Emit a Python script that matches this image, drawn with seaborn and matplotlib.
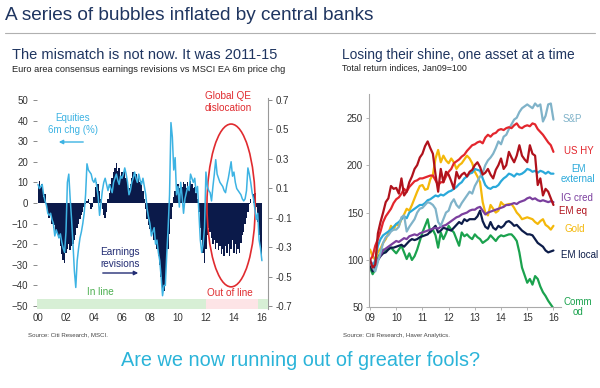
import numpy as np
import pandas as pd
import matplotlib
matplotlib.use("Agg")
import matplotlib.pyplot as plt
import seaborn as sns
from matplotlib.patches import Ellipse
from matplotlib.lines import Line2D

# Left panel: readings every 0.1 year, 2000.0 .. 2016.0
left_years = np.round(np.arange(2000.0, 2016.05, 0.1), 1)

# MSCI EA 6m price change (%), left axis
equity_6m_chg = [
    9, 7, 8, 9, 4, 1, -1, -5, -6, -5,            # 2000
    -8, -10, -16, -13, -15, -17, -15, -19, -22, -24,  # 2001
    -14, 10, 14, 2, -8, -20, -33, -41, -28, -22,  # 2002
    -17, -14, -10, -5, 4, 19, 16, 15, 14, 11,     # 2003
    10, 12, 8, 3, -6, 0, 6, 10, 12, 9,            # 2004
    6, 9, 7, 5, 10, 12, 14, 11, 9, 13,            # 2005
    12, 14, 17, 14, 10, 4, 6, 10, 12, 15,         # 2006
    12, 10, 14, 11, 9, 12, 8, 4, -3, -7,          # 2007
    -10, -16, -14, -12, -20, -18, -24, -28, -36, -45,  # 2008
    -40, -40, -25, -12, 4, 39, 32, 16, 22, 4,     # 2009
    8, -2, 10, 3, -5, 2, 5, 8, 6, 14,             # 2010
    12, 10, 12, 5, 8, -5, -18, -24, -20, -12,     # 2011
    15, 8, 6, 5, 1, 8, 14, 21, 14, 12,            # 2012
    10, 9, 8, 6, 5, 9, 12, 16, 20, 13,            # 2013
    15, 10, 7, 6, 5, 4, 2, 1, 2, 6,               # 2014
    17, 14, 10, 5, 2, -3, -8, -5, -18, -22,       # 2015
    -28,                                          # 2016
]

# Consensus earnings revisions ratio, right axis
earnings_revisions = [
    0.11, 0.15, 0.10, 0.13, 0.04, 0.06, -0.03, -0.06, -0.10, -0.08,
    -0.14, -0.17, -0.15, -0.20, -0.22, -0.24, -0.29, -0.35, -0.39, -0.41,
    -0.34, -0.31, -0.28, -0.32, -0.29, -0.28, -0.25, -0.22, -0.17, -0.14,
    -0.11, -0.08, -0.06, -0.03, -0.01, 0.01, 0.03, -0.01, -0.04, -0.03,
    0.04, 0.11, 0.14, 0.13, 0.08, 0.03, -0.04, -0.08, -0.10, -0.06,
    0.03, 0.07, 0.13, 0.17, 0.21, 0.24, 0.27, 0.22, 0.24, 0.18,
    0.21, 0.20, 0.22, 0.17, 0.14, 0.10, 0.13, 0.17, 0.21, 0.18,
    0.20, 0.15, 0.18, 0.14, 0.15, 0.08, 0.03, -0.04, -0.11, -0.15,
    -0.18, -0.21, -0.20, -0.25, -0.28, -0.31, -0.36, -0.42, -0.50, -0.59,
    -0.60, -0.53, -0.42, -0.31, -0.21, -0.11, -0.03, 0.04, 0.08, 0.11,
    0.13, 0.10, 0.14, 0.11, 0.14, 0.13, 0.10, 0.14, 0.11, 0.15,
    0.13, 0.10, 0.11, 0.07, 0.03, -0.06, -0.17, -0.25, -0.34, -0.41,
    -0.31, -0.22, -0.17, -0.20, -0.24, -0.28, -0.25, -0.31, -0.27, -0.32,
    -0.29, -0.35, -0.31, -0.36, -0.29, -0.34, -0.28, -0.36, -0.31, -0.25,
    -0.34, -0.28, -0.35, -0.31, -0.34, -0.27, -0.22, -0.20, -0.14, -0.10,
    -0.06, -0.01, 0.03, 0.00, 0.06, 0.07, -0.03, -0.13, -0.22, -0.31,
    -0.39,
]

# regime bar along the bottom: (start, end, kind)
regimes = [(1999.9, 2012.0, "in"), (2012.0, 2015.7, "out"), (2015.7, 2016.45, "in")]

left_xticks = list(range(2000, 2017, 2))
left_yticks = list(range(-50, 51, 10))
rev_ticks = [-0.7, -0.5, -0.3, -0.1, 0.1, 0.3, 0.5, 0.7]

# Right panel: total return indices, Jan09=100, every 0.1 year 2009.0 .. 2016.0
right_years = np.round(np.arange(2009.0, 2016.05, 0.1), 1)

sp500 = [
    100, 92, 88, 98, 108, 118, 124, 126, 130, 132,
    132, 135, 145, 147, 130, 135, 139, 143, 150, 154,
    155, 158, 161, 160, 158, 154, 140, 136, 143, 150,
    152, 160, 164, 158, 155, 160, 164, 168, 172, 170,
    178, 183, 188, 192, 200, 205, 208, 212, 218, 225,
    222, 230, 232, 238, 243, 248, 250, 256, 260, 262,
    264, 262, 260, 265, 262, 264, 246, 252, 264, 265,
    248,
]
us_hy = [
    100, 104, 115, 122, 130, 140, 146, 150, 154, 160,
    164, 166, 170, 175, 172, 177, 180, 183, 184, 186,
    186, 187, 188, 189, 189, 184, 179, 182, 182, 188,
    193, 196, 202, 204, 206, 209, 211, 215, 218, 221,
    222, 224, 225, 223, 229, 232, 230, 233, 234, 237,
    238, 237, 239, 240, 239, 242, 244, 240, 239, 241,
    242, 241, 244, 243, 238, 235, 232, 228, 224, 221,
    214,
]
em_external = [
    97, 93, 100, 115, 122, 126, 128, 130, 132, 135,
    138, 140, 143, 146, 144, 150, 152, 154, 156, 158,
    158, 160, 163, 164, 166, 168, 167, 169, 168, 170,
    172, 173, 175, 177, 180, 182, 186, 188, 191, 192,
    196, 195, 194, 186, 179, 176, 175, 177, 177, 179,
    183, 186, 188, 191, 190, 188, 191, 190, 191, 193,
    196, 195, 193, 194, 192, 194, 193, 191, 193, 191,
    191,
]
ig_credit = [
    100, 95, 93, 100, 105, 110, 112, 114, 116, 118,
    120, 119, 121, 123, 122, 125, 126, 127, 126, 128,
    129, 130, 131, 132, 133, 134, 133, 135, 136, 137,
    139, 141, 143, 145, 146, 148, 149, 150, 152, 153,
    153, 155, 156, 152, 148, 150, 151, 152, 153, 154,
    155, 156, 158, 158, 159, 160, 159, 161, 162, 163,
    165, 166, 164, 165, 163, 162, 163, 162, 161, 162,
    161,
]
em_equity = [
    100, 92, 95, 128, 140, 150, 161, 165, 178, 175,
    176, 170, 186, 168, 172, 182, 188, 196, 200, 208,
    212, 220, 225, 218, 212, 190, 172, 196, 182, 193,
    190, 183, 175, 193, 186, 190, 192, 188, 193, 195,
    200, 203, 198, 190, 192, 196, 190, 186, 195, 200,
    207, 196, 200, 214, 208, 203, 210, 221, 210, 206,
    203, 221, 212, 210, 179, 186, 168, 175, 172, 165,
    158,
]
gold = [
    111, 104, 100, 108, 112, 118, 122, 128, 136, 132,
    138, 136, 143, 148, 154, 152, 158, 165, 172, 178,
    179, 174, 175, 185, 190, 207, 216, 203, 210, 205,
    202, 207, 203, 196, 200, 202, 206, 210, 207, 202,
    193, 188, 182, 161, 150, 147, 158, 154, 150, 152,
    161, 158, 158, 159, 159, 155, 150, 147, 143, 144,
    145, 144, 143, 140, 138, 141, 143, 137, 135, 132,
    136,
]
em_local = [
    95, 88, 92, 100, 104, 107, 108, 111, 113, 113,
    114, 115, 116, 114, 117, 120, 122, 121, 122, 124,
    125, 126, 127, 130, 133, 136, 129, 131, 134, 133,
    132, 131, 134, 137, 140, 138, 143, 141, 143, 143,
    143, 146, 152, 141, 135, 133, 140, 134, 132, 136,
    134, 136, 140, 141, 139, 136, 137, 134, 131, 129,
    127, 127, 126, 122, 118, 116, 114, 110, 108, 109,
    110,
]
commodities = [
    92, 85, 90, 104, 106, 111, 109, 113, 113, 110,
    107, 111, 115, 108, 101, 107, 100, 104, 111, 120,
    129, 136, 143, 129, 132, 126, 113, 129, 122, 128,
    136, 132, 129, 122, 115, 129, 125, 127, 124, 122,
    127, 124, 122, 118, 120, 122, 126, 123, 120, 124,
    126, 125, 126, 127, 127, 124, 120, 108, 92, 84,
    76, 80, 74, 83, 80, 72, 66, 62, 57, 53,
    49,
]

asset_names = ["Commod", "EM local", "Gold", "IG cred", "EM external",
               "S&P", "US HY", "EM eq"]
asset_labels = ["Comm\nod", "EM local", "Gold", "IG cred", "EM\nexternal",
                "S&P", "US HY", "EM eq"]
asset_series = [commodities, em_local, gold, ig_credit, em_external,
                sp500, us_hy, em_equity]
asset_colors = ["#1ba24e", "#0d1d4a", "#f4b80a", "#7b3f9e", "#2aa9da",
                "#80b3c9", "#e3262d", "#b0121c"]
# label anchor (pixel x, y) next to the end of each line
asset_label_px = [(578, 307), (580, 255), (575, 229), (577, 198), (578, 174),
                  (572, 119), (579, 151), (573, 211)]

right_xticks = list(range(2009, 2017))
right_yticks = [50, 100, 150, 200, 250]

NAVY = "#0b1a4a"
LIGHT_BLUE = "#3db3e3"
RED = "#e02b2f"
TITLE_NAVY = "#1f3560"
TICK_COLOR = "#333333"

W, H = 600, 388


def fx(x):
    return x / W


def fy(y):
    return 1 - y / H


sns.set_theme(style="white")
plt.rcParams["font.family"] = ["Liberation Sans", "DejaVu Sans"]

fig = plt.figure(figsize=(6, 3.88), dpi=100)
fig.patch.set_facecolor("white")

# ---------- titles ----------
fig.text(fx(5), fy(16), "A series of bubbles inflated by central banks",
         fontsize=13.7, color=TITLE_NAVY, va="center", ha="left")
fig.add_artist(Line2D([fx(5), fx(595)], [fy(33), fy(33)],
                      color="#b0b0b0", lw=0.8, transform=fig.transFigure))

fig.text(fx(12), fy(55), "The mismatch is not now. It was 2011-15",
         fontsize=10.5, color=TITLE_NAVY, va="center")
fig.text(fx(12), fy(69), "Euro area consensus earnings revisions vs MSCI EA 6m price chg",
         fontsize=6.7, color="#222222", va="center")
fig.text(fx(342), fy(55), "Losing their shine, one asset at a time",
         fontsize=9.9, color=TITLE_NAVY, va="center")
fig.text(fx(342), fy(68), "Total return indices, Jan09=100",
         fontsize=6.4, color="#222222", va="center")

fig.text(fx(28), fy(335), "Source: Citi Research, MSCI.", fontsize=4.4,
         color="#444444", va="center")
fig.text(fx(343), fy(335), "Source: Citi Research, Haver Analytics.",
         fontsize=4.4, color="#444444", va="center")
fig.text(fx(301), fy(361), "Are we now running out of greater fools?",
         fontsize=14.3, color="#2bb4d9", ha="center", va="center")

# ---------- left panel ----------
left_df = pd.DataFrame({"year": left_years, "equities": equity_6m_chg,
                        "revisions": earnings_revisions})

ylo, yhi = -51.5, 51
rev_scale = 0.7 / 50
ax1 = fig.add_axes([0.061, fy(309.1), 0.386, 0.5444])
ax2 = ax1.twinx()

ax2.fill_between(left_df["year"], 0, left_df["revisions"], step="mid",
                 color=NAVY, lw=0)
ax2.set_ylim(ylo * rev_scale, yhi * rev_scale)
ax2.set_yticks(rev_ticks)
ax2.set_yticklabels([f"{v:.1f}" for v in rev_ticks])

ax1.set_zorder(ax2.get_zorder() + 1)
ax1.patch.set_visible(False)

band_colors = {"in": "#d7efd5", "out": "#fde4e6"}
for start, end, kind in regimes:
    ax1.fill_between([start, end], ylo, -46.5, color=band_colors[kind], lw=0)

sns.lineplot(data=left_df, x="year", y="equities", ax=ax1, color=LIGHT_BLUE,
             lw=1.1)
ax1.add_patch(Ellipse((2013.8, -1.2), width=3.45, height=79, fill=False,
                      edgecolor=RED, lw=1.2))

ax1.set_xlim(1999.9, 2016.45)
ax1.set_ylim(ylo, yhi)
ax1.set_xticks(left_xticks)
ax1.set_xticklabels([f"{y % 100:02d}" for y in left_xticks])
ax1.set_yticks(left_yticks)
ax1.set_xlabel("")
ax1.set_ylabel("")
ax2.set_ylabel("")

for s in ax1.spines.values():
    s.set_visible(False)
for name, s in ax2.spines.items():
    s.set_visible(name == "right")
ax2.spines["right"].set_color("#999999")
ax2.spines["right"].set_linewidth(0.8)

ax1.tick_params(axis="y", left=True, length=3, width=0.6, color="#777777",
                labelsize=7, labelcolor=TICK_COLOR, pad=3)
ax1.tick_params(axis="x", bottom=False, length=0, labelsize=7,
                labelcolor=TICK_COLOR, pad=3)
ax2.tick_params(axis="y", right=True, length=3, width=0.6, color="#777777",
                labelsize=7, labelcolor=TICK_COLOR, pad=2)

fig.text(fx(73), fy(124), "Equities\n6m chg (%)", fontsize=7, color=LIGHT_BLUE,
         ha="center", va="center", linespacing=1.15)
ax1.annotate("", xy=(fx(56), fy(142)), xytext=(fx(86), fy(142)),
             xycoords="figure fraction", textcoords="figure fraction",
             arrowprops=dict(arrowstyle="-|>", color=LIGHT_BLUE, lw=1,
                             mutation_scale=6))
fig.text(fx(120), fy(258), "Earnings\nrevisions", fontsize=7.2, color="#232d74",
         ha="center", va="center", linespacing=1.15)
ax1.annotate("", xy=(fx(141), fy(273)), xytext=(fx(100), fy(273)),
             xycoords="figure fraction", textcoords="figure fraction",
             arrowprops=dict(arrowstyle="-|>", color="#232d74", lw=1,
                             mutation_scale=6))
fig.text(fx(228), fy(102), "Global QE\ndislocation", fontsize=7.2, color=RED,
         ha="center", va="center", linespacing=1.15)
fig.text(fx(100), fy(292), "In line", fontsize=7.2, color="#4caf50",
         ha="center", va="center")
fig.text(fx(230), fy(293), "Out of line", fontsize=7.2, color=RED,
         ha="center", va="center")

# ---------- right panel ----------
right_long = pd.concat(
    [pd.DataFrame({"year": right_years, "value": vals, "asset": name})
     for name, vals in zip(asset_names, asset_series)],
    ignore_index=True)

ax3 = fig.add_axes([fx(368.7), fy(307.4), 0.321, 0.55])
sns.lineplot(data=right_long, x="year", y="value", hue="asset",
             hue_order=asset_names, palette=asset_colors, ax=ax3,
             lw=1.6, legend=False)

ax3.set_xlim(2008.95, 2016.3)
ax3.set_ylim(50, 275)
ax3.set_xticks(right_xticks)
ax3.set_xticklabels([f"{y % 100:02d}" for y in right_xticks])
ax3.set_yticks(right_yticks)
ax3.set_xlabel("")
ax3.set_ylabel("")
for name, s in ax3.spines.items():
    s.set_visible(name in ("left", "bottom"))
    s.set_color("#aaaaaa")
    s.set_linewidth(0.8)
ax3.tick_params(axis="both", labelsize=7, labelcolor=TICK_COLOR,
                color="#aaaaaa", length=2, width=0.6, pad=2,
                left=True, bottom=True)

for label, color, (px, py) in zip(asset_labels, asset_colors, asset_label_px):
    fig.text(fx(px), fy(py), label, fontsize=7, color=color,
             ha="center", va="center", linespacing=1.1)

fig.savefig("out.png", dpi=100, facecolor="white")
